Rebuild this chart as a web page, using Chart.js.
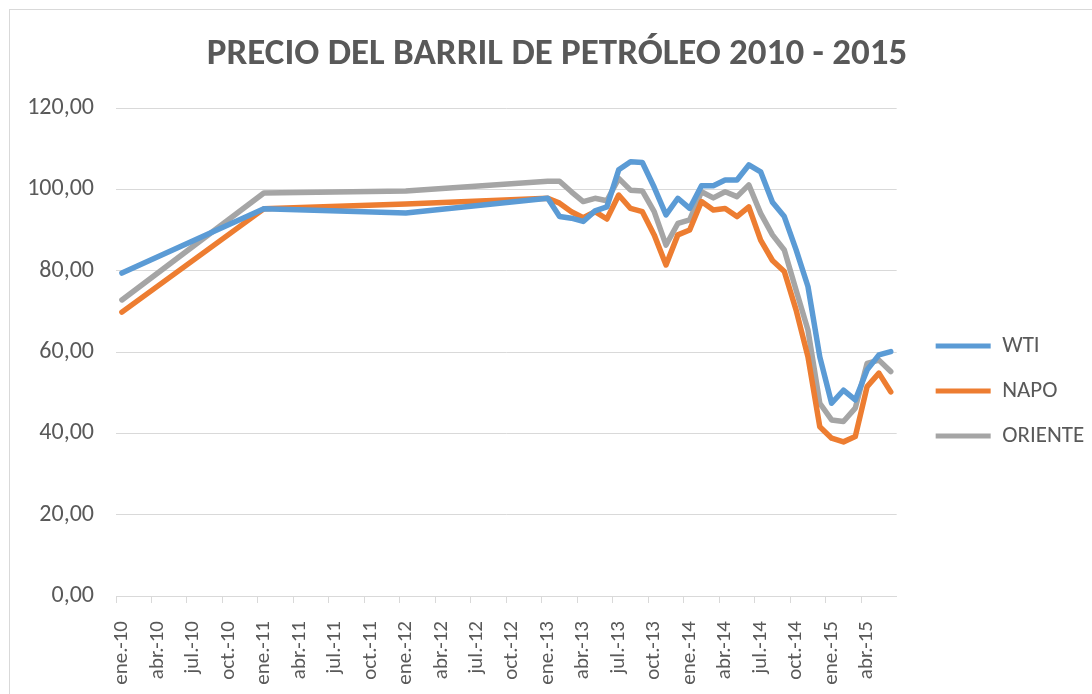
<!DOCTYPE html>
<html>
<head>
<meta charset="utf-8">
<script src="https://cdn.jsdelivr.net/npm/chart.js@4/dist/chart.umd.min.js"></script>
<style>
  html, body { margin: 0; padding: 0; background: #fff; overflow: hidden; }
  #box { position: absolute; left: 9px; top: 9px; width: 1100px; height: 700px; border: 1px solid #d9d9d9; }
  #wrap { position: absolute; left: 0; top: 0; width: 1082px; height: 684px; }
</style>
</head>
<body>
<div id="box"><div id="wrap"><canvas id="chart"></canvas></div></div>
<script>
// eje de meses (categorías) de ene.-10 a jun.-15
const meses = ['ene.', 'feb.', 'mar.', 'abr.', 'may.', 'jun.', 'jul.', 'ago.', 'sep.', 'oct.', 'nov.', 'dic.'];
const anios = ['10', '11', '12', '13', '14', '15'];
const categorias = [];
anios.forEach(a => meses.forEach(m => categorias.push(m + '-' + a)));
categorias.length = 66;

// fechas con dato
const fechas = [
  'ene.-10', 'ene.-11', 'ene.-12',
  'ene.-13', 'feb.-13', 'mar.-13', 'abr.-13', 'may.-13', 'jun.-13', 'jul.-13', 'ago.-13', 'sep.-13', 'oct.-13', 'nov.-13', 'dic.-13',
  'ene.-14', 'feb.-14', 'mar.-14', 'abr.-14', 'may.-14', 'jun.-14', 'jul.-14', 'ago.-14', 'sep.-14', 'oct.-14', 'nov.-14', 'dic.-14',
  'ene.-15', 'feb.-15', 'mar.-15', 'abr.-15', 'may.-15', 'jun.-15'
];
const wti = [
  79.4, 95.2, 94.2,
  97.8, 93.3, 92.9, 92.1, 94.7, 95.7, 104.8, 106.8, 106.6, 100.5, 93.7, 97.8,
  95.3, 100.9, 100.9, 102.3, 102.3, 106.0, 104.3, 96.8, 93.3, 85.1, 76.1, 58.8,
  47.4, 50.6, 48.2, 55.6, 59.3, 60.1
];
const napo = [
  69.8, 95.2, 96.4,
  97.8, 96.6, 94.5, 93.0, 94.5, 92.7, 98.6, 95.3, 94.5, 88.8, 81.4, 88.8,
  90.0, 97.0, 94.9, 95.3, 93.3, 95.7, 87.5, 82.5, 79.8, 70.3, 58.8, 41.6,
  38.8, 37.9, 39.2, 51.5, 54.8, 50.2
];
const oriente = [
  72.8, 99.1, 99.6,
  102.0, 102.0, 99.4, 97.0, 97.8, 97.2, 102.7, 99.8, 99.6, 94.5, 86.3, 91.6,
  92.5, 99.4, 97.9, 99.4, 98.2, 101.1, 94.1, 88.8, 85.1, 75.2, 65.4, 47.4,
  43.3, 42.9, 46.2, 57.2, 58.0, 55.2
];

const FONT = "Carlito, Lato, sans-serif";
const GRIS = '#595959';

function serie(label, valores, color) {
  return {
    label,
    data: fechas.map((f, i) => ({ x: f, y: valores[i] })),
    borderColor: color,
    backgroundColor: color,
    borderWidth: 5.5,
    borderCapStyle: 'round',
    borderJoinStyle: 'round',
    pointRadius: 0,
    tension: 0,
  };
}

new Chart(document.getElementById('chart').getContext('2d'), {
  type: 'line',
  data: {
    labels: categorias,
    datasets: [
      serie('WTI', wti, '#5b9bd5'),
      serie('NAPO', napo, '#ed7d31'),
      serie('ORIENTE', oriente, '#a5a5a5'),
    ],
  },
  options: {
    responsive: true, maintainAspectRatio: false, animation: false,
    layout: { padding: { left: 12, right: 0, top: 0, bottom: 0 } },
    plugins: {
      title: {
        display: true, text: 'PRECIO DEL BARRIL DE PETRÓLEO 2010 - 2015',
        color: GRIS, font: { family: FONT, size: 37, weight: 'bold', lineHeight: 1.2 },
        padding: { top: 23, bottom: 30.6 },
      },
      legend: {
        position: 'right',
        title: { display: true, text: '', font: { size: 10, lineHeight: 1.2 }, padding: { top: 33, bottom: 33 } },
        labels: {
          color: GRIS, font: { family: FONT, size: 23 },
          boxWidth: 55, boxHeight: 5, padding: 22,
          generateLabels: chart => Chart.defaults.plugins.legend.labels.generateLabels(chart)
            .map(l => ({ ...l, lineWidth: 0 })),
        },
      },
      tooltip: { enabled: false },
    },
    scales: {
      x: {
        type: 'category', offset: true,
        grid: {
          offset: true, drawOnChartArea: false, drawTicks: true, tickLength: 7,
          color: c => (c.index % 3 === 0 ? '#d9d9d9' : 'rgba(0,0,0,0)'),
        },
        border: { color: '#d9d9d9' },
        ticks: {
          autoSkip: false, minRotation: 90, maxRotation: 90, padding: 18,
          color: GRIS, font: { family: FONT, size: 21 },
          callback: (v, i) => (i % 3 === 0 ? categorias[i] : ''),
        },
        afterFit: s => { s.height = 98; },
      },
      y: {
        min: 0, max: 120,
        grid: { color: '#d9d9d9', drawTicks: false },
        border: { display: false },
        ticks: {
          stepSize: 20, padding: 22, color: GRIS, font: { family: FONT, size: 24 },
          callback: v => v.toFixed(2).replace('.', ','),
        },
        afterFit: s => { s.width = 94; },
      },
      hueco: {
        type: 'linear', position: 'right', display: true,
        grid: { display: false }, border: { display: false }, ticks: { display: false },
        afterFit: s => { s.width = 17; },
      },
    },
  },
});
</script>
</body>
</html>
